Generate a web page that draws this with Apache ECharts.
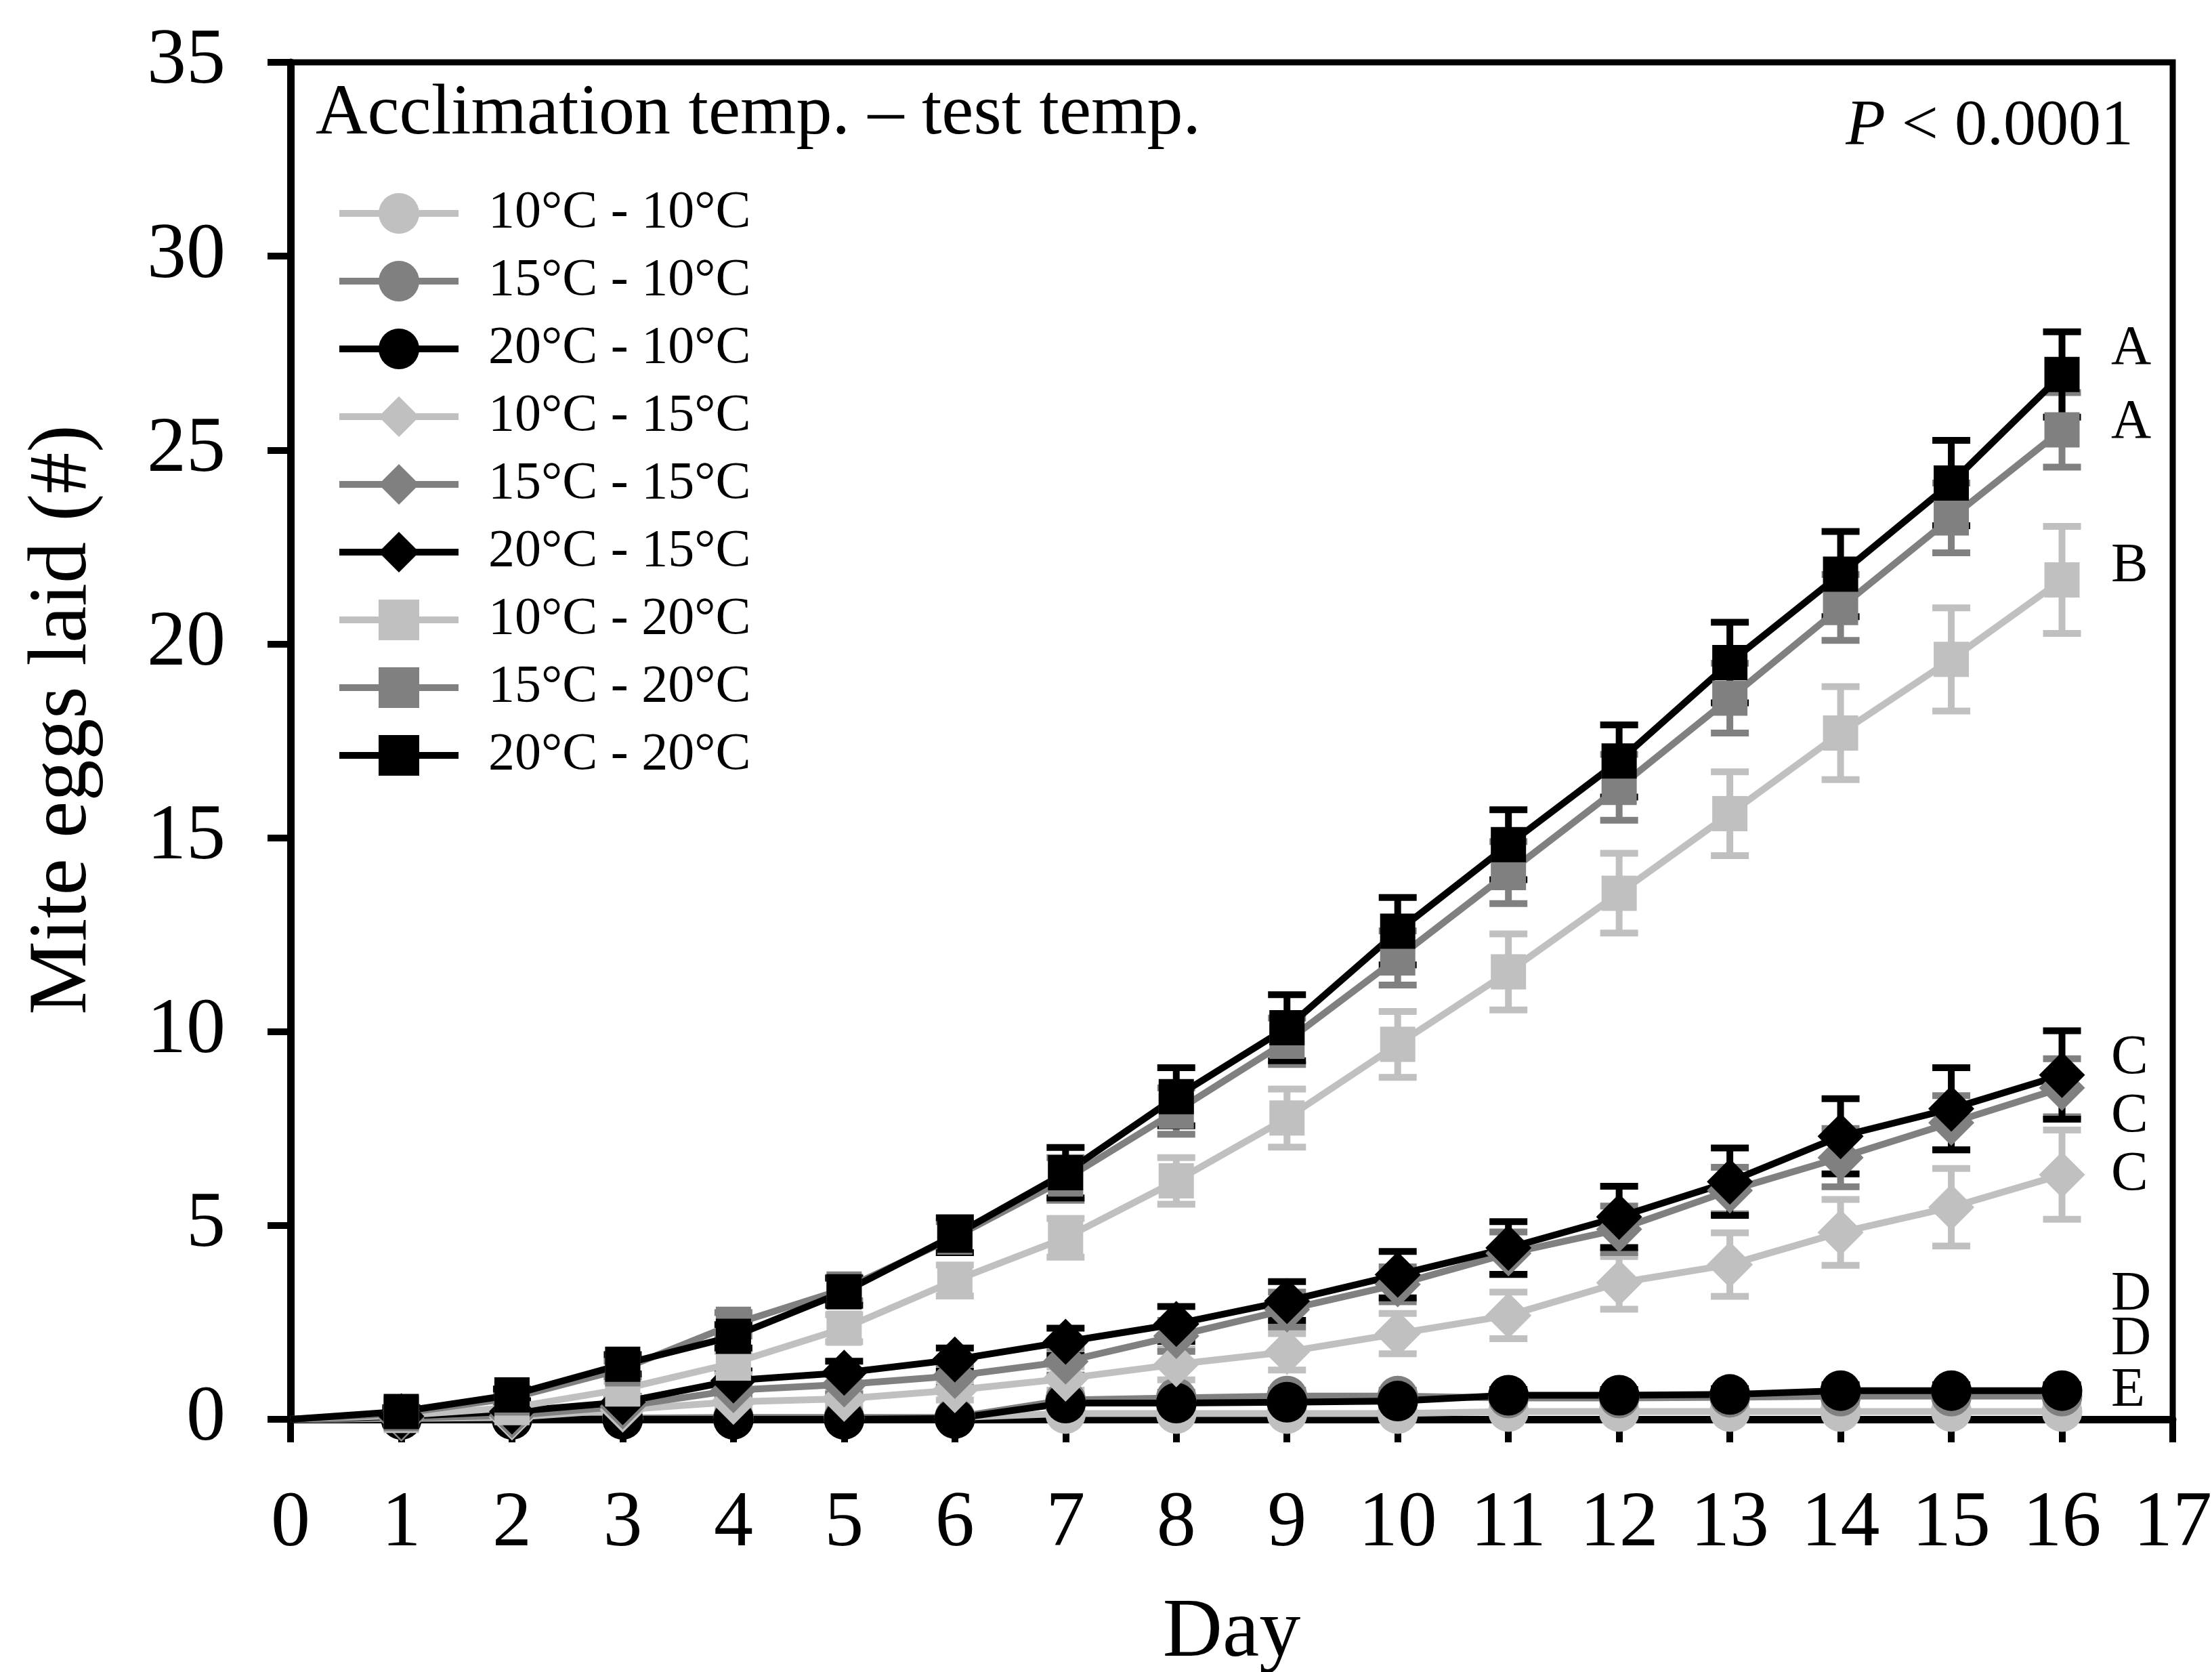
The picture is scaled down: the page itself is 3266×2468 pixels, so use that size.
<!DOCTYPE html>
<html>
<head>
<meta charset="utf-8">
<title>Mite eggs laid</title>
<script src="https://cdn.jsdelivr.net/npm/echarts@6/dist/echarts.min.js"></script>
<style>
  html, body { margin: 0; padding: 0; background: #fff; }
  #chart { width: 3266px; height: 2468px; }
</style>
</head>
<body>
<div id="chart"></div>
<script>
// days 0..16
const days = [0, 1, 2, 3, 4, 5, 6, 7, 8, 9, 10, 11, 12, 13, 14, 15, 16];

const seriesNames = [
  '10°C - 10°C', '15°C - 10°C', '20°C - 10°C',
  '10°C - 15°C', '15°C - 15°C', '20°C - 15°C',
  '10°C - 20°C', '15°C - 20°C', '20°C - 20°C'
];

// means (cumulative eggs)
const mean10_10 = [0, 0, 0.02, 0.02, 0.03, 0.03, 0.05, 0.15, 0.15, 0.15, 0.15, 0.2, 0.2, 0.2, 0.2, 0.2, 0.2];
const mean15_10 = [0, 0, 0.02, 0.03, 0.05, 0.05, 0.05, 0.5, 0.55, 0.6, 0.6, 0.55, 0.55, 0.57, 0.6, 0.6, 0.6];
const mean20_10 = [0, 0, 0, 0, 0, 0, 0.02, 0.42, 0.42, 0.44, 0.47, 0.62, 0.62, 0.64, 0.74, 0.74, 0.74];
const mean10_15 = [0, 0.02, 0.05, 0.25, 0.45, 0.53, 0.75, 1.05, 1.42, 1.74, 2.21, 2.68, 3.52, 3.99, 4.82, 5.47, 6.31];
const mean15_15 = [0, 0.03, 0.1, 0.33, 0.75, 0.9, 1.12, 1.49, 2.15, 2.83, 3.48, 4.28, 4.9, 5.9, 6.75, 7.65, 8.55];
const mean20_15 = [0, 0.08, 0.2, 0.44, 1.0, 1.2, 1.54, 2.0, 2.46, 3.05, 3.73, 4.42, 5.22, 6.13, 7.3, 8.01, 8.88];
const mean10_20 = [0, 0.1, 0.3, 0.78, 1.45, 2.35, 3.58, 4.68, 6.15, 7.77, 9.67, 11.54, 13.57, 15.62, 17.7, 19.6, 21.65];
const mean15_20 = [0, 0.15, 0.55, 1.3, 2.45, 3.36, 4.7, 6.2, 7.95, 9.75, 11.9, 14.1, 16.3, 18.6, 20.94, 23.25, 25.52];
const mean20_20 = [0, 0.2, 0.63, 1.42, 2.14, 3.29, 4.75, 6.36, 8.32, 10.1, 12.59, 14.82, 16.98, 19.52, 21.8, 24.15, 26.95];

// standard errors
const se10_10 = [0, 0, 0, 0, 0, 0, 0, 0.08, 0.08, 0.08, 0.08, 0.1, 0.1, 0.1, 0.1, 0.1, 0.1];
const se15_10 = [0, 0, 0, 0, 0, 0, 0, 0.15, 0.15, 0.15, 0.15, 0.15, 0.15, 0.15, 0.15, 0.15, 0.15];
const se20_10 = [0, 0, 0, 0, 0, 0, 0, 0.15, 0.15, 0.15, 0.15, 0.15, 0.15, 0.15, 0.15, 0.15, 0.15];
const se10_15 = [0, 0.02, 0.05, 0.1, 0.15, 0.2, 0.25, 0.3, 0.4, 0.47, 0.52, 0.6, 0.68, 0.82, 0.85, 1.0, 1.15];
const se15_15 = [0, 0.03, 0.08, 0.15, 0.2, 0.25, 0.3, 0.35, 0.4, 0.45, 0.45, 0.55, 0.6, 0.6, 0.75, 0.7, 0.75];
const se20_15 = [0, 0.05, 0.1, 0.15, 0.25, 0.3, 0.3, 0.35, 0.45, 0.5, 0.6, 0.68, 0.79, 0.87, 0.97, 1.06, 1.14];
const se10_20 = [0, 0.05, 0.1, 0.2, 0.3, 0.35, 0.4, 0.5, 0.6, 0.75, 0.85, 0.98, 1.03, 1.08, 1.2, 1.33, 1.38];
const se15_20 = [0, 0.1, 0.15, 0.2, 0.3, 0.3, 0.4, 0.55, 0.6, 0.6, 0.7, 0.8, 0.85, 0.9, 0.85, 0.9, 0.96];
const se20_20 = [0, 0.1, 0.15, 0.25, 0.3, 0.35, 0.45, 0.65, 0.75, 0.85, 0.87, 0.9, 0.93, 1.04, 1.1, 1.1, 1.1];

// significance letters at the end of the lines
const letterText = ['A', 'A', 'B', 'C', 'C', 'C', 'D', 'D', 'E'];
const letterY = [27.6, 25.7, 22.0, 9.3, 7.8, 6.3, 3.2, 2.05, 0.72];
const letterX = 16.44;

const xTicks = { min: 0, max: 17, interval: 1 };
const yTicks = { min: 0, max: 35, interval: 5 };

const FONT = 'Liberation Serif';
const LIGHT = '#c0c0c0', MID = '#808080', DARK = '#000000';
const LINE_W = 10;

const groups = [
  { name: seriesNames[0], mean: mean10_10, se: se10_10, color: LIGHT, symbol: 'circle', size: 60 },
  { name: seriesNames[1], mean: mean15_10, se: se15_10, color: MID, symbol: 'circle', size: 60 },
  { name: seriesNames[2], mean: mean20_10, se: se20_10, color: DARK, symbol: 'circle', size: 60 },
  { name: seriesNames[3], mean: mean10_15, se: se10_15, color: LIGHT, symbol: 'diamond', size: 68 },
  { name: seriesNames[4], mean: mean15_15, se: se15_15, color: MID, symbol: 'diamond', size: 68 },
  { name: seriesNames[5], mean: mean20_15, se: se20_15, color: DARK, symbol: 'diamond', size: 68 },
  { name: seriesNames[6], mean: mean10_20, se: se10_20, color: LIGHT, symbol: 'rect', size: 52 },
  { name: seriesNames[7], mean: mean15_20, se: se15_20, color: MID, symbol: 'rect', size: 52 },
  { name: seriesNames[8], mean: mean20_20, se: se20_20, color: DARK, symbol: 'rect', size: 52 }
];

const chart = echarts.init(document.getElementById('chart'), null, { renderer: 'canvas' });

// error bar: vertical stem with caps
const errorBarRenderer = (color) => (params, api) => {
  const x = api.value(0);
  const top = api.coord([x, api.value(2)]);
  const bot = api.coord([x, api.value(1)]);
  const half = 28;
  const style = { stroke: color, lineWidth: LINE_W, fill: null };
  return {
    type: 'group',
    children: [
      { type: 'line', shape: { x1: top[0], y1: top[1], x2: bot[0], y2: bot[1] }, style },
      { type: 'line', shape: { x1: top[0] - half, y1: top[1], x2: top[0] + half, y2: top[1] }, style },
      { type: 'line', shape: { x1: bot[0] - half, y1: bot[1], x2: bot[0] + half, y2: bot[1] }, style }
    ]
  };
};

const series = [];
groups.forEach((g) => {
  const errData = [];
  days.forEach((d, i) => {
    if (g.se[i] > 0) errData.push([d, g.mean[i] - g.se[i], g.mean[i] + g.se[i]]);
  });
  series.push({
    type: 'custom',
    name: g.name + ' SE',
    renderItem: errorBarRenderer(g.color),
    data: errData,
    clip: false,
    silent: true
  });
  series.push({
    type: 'line',
    name: g.name,
    data: days.map((d, i) => (i === 0 ? { value: [d, g.mean[i]], symbol: 'none' } : [d, g.mean[i]])),
    symbol: g.symbol,
    symbolSize: g.size,
    showAllSymbol: true,
    clip: false,
    lineStyle: { color: g.color, width: LINE_W },
    itemStyle: { color: g.color, opacity: 1 },
    emphasis: { disabled: true }
  });
});

series.push({
  type: 'scatter',
  name: 'letters',
  data: letterText.map((t, i) => ({ name: t, value: [letterX, letterY[i]] })),
  symbolSize: 1,
  itemStyle: { color: 'rgba(0,0,0,0)', opacity: 1 },
  clip: false,
  silent: true,
  labelLayout: { hideOverlap: false },
  label: {
    show: true,
    position: 'right',
    distance: 0,
    formatter: (p) => p.name,
    fontFamily: FONT,
    fontSize: 82,
    color: '#000'
  }
});

const option = {
  animation: false,
  backgroundColor: '#fff',
  textStyle: { fontFamily: FONT },
  title: [
    {
      text: 'Acclimation temp. – test temp.',
      left: 466,
      top: 116,
      padding: 0,
      textStyle: { fontFamily: FONT, fontSize: 106, fontWeight: 'normal', color: '#000' }
    },
    {
      text: '{i|P} < 0.0001',
      right: 116,
      top: 140,
      padding: 0,
      textStyle: {
        fontFamily: FONT, fontSize: 96, fontWeight: 'normal', color: '#000',
        rich: { i: { fontFamily: FONT, fontSize: 96, fontStyle: 'italic', color: '#000' } }
      }
    }
  ],
  legend: {
    orient: 'vertical',
    left: 496,
    top: 276,
    padding: 0,
    itemWidth: 176,
    itemHeight: 75,
    itemGap: 22,
    data: seriesNames,
    selectedMode: false,
    lineStyle: { width: LINE_W },
    textStyle: { fontFamily: FONT, fontSize: 78, color: '#000', padding: [0, 0, 0, 39] }
  },
  grid: {
    left: 429,
    right: 58,
    top: 92,
    bottom: 373,
    outerBoundsMode: 'none',
    containLabel: false,
    show: true,
    borderColor: '#000',
    borderWidth: 9,
    backgroundColor: 'transparent'
  },
  xAxis: {
    type: 'value',
    min: xTicks.min,
    max: xTicks.max,
    interval: xTicks.interval,
    name: 'Day',
    nameLocation: 'middle',
    nameGap: 256,
    nameTextStyle: { fontFamily: FONT, fontSize: 122, color: '#000' },
    axisLine: { show: true, lineStyle: { color: '#000', width: 11 } },
    axisTick: { show: true, inside: false, length: 34, lineStyle: { color: '#000', width: 10 } },
    axisLabel: { fontFamily: FONT, fontSize: 116, color: '#000', margin: 98 },
    splitLine: { show: false }
  },
  yAxis: {
    type: 'value',
    min: yTicks.min,
    max: yTicks.max,
    interval: yTicks.interval,
    name: 'Mite eggs laid (#)',
    nameLocation: 'middle',
    nameGap: 274,
    nameTextStyle: { fontFamily: FONT, fontSize: 122, color: '#000', padding: [0, 0, 0, 62] },
    axisLine: { show: true, lineStyle: { color: '#000', width: 11 } },
    axisTick: { show: true, inside: false, length: 34, lineStyle: { color: '#000', width: 10 } },
    axisLabel: { fontFamily: FONT, fontSize: 116, color: '#000', margin: 96 },
    splitLine: { show: false }
  },
  series: series
};

chart.setOption(option);
</script>
</body>
</html>
